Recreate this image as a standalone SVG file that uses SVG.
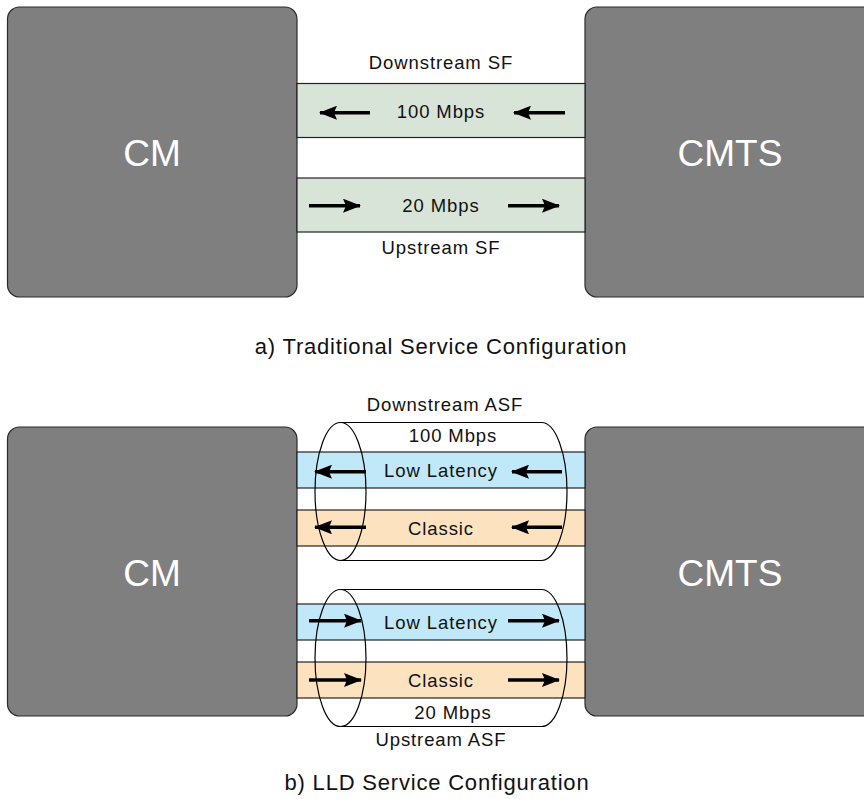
<svg xmlns="http://www.w3.org/2000/svg" width="864" height="799" viewBox="0 0 864 799">
<defs>
<style>
.box{fill:#7f7f7f;stroke:#2a2a2a;stroke-width:1.2}
.big{font-family:"Liberation Sans",Arial,sans-serif;font-size:37px;fill:#ffffff;text-anchor:middle}
.t{font-family:"Liberation Sans",Arial,sans-serif;font-size:18.5px;fill:#111;text-anchor:middle;letter-spacing:0.9px}
.cap{font-family:"Liberation Sans",Arial,sans-serif;font-size:22px;fill:#111;text-anchor:middle;letter-spacing:0.8px}
.sf{fill:#d9e4d9;stroke:#222;stroke-width:1.2}
.ll{fill:#c0e8f8;stroke:#222;stroke-width:1.2}
.cl{fill:#fde2bf;stroke:#222;stroke-width:1.2}
.arr{stroke:#000;stroke-width:3.4;fill:none;marker-end:url(#ah)}
.cyl{fill:none;stroke:#000;stroke-width:1.2}
</style>
<marker id="ah" viewBox="0 0 18 14" refX="17" refY="7" markerWidth="18" markerHeight="14" orient="auto" markerUnits="userSpaceOnUse">
<path d="M0,0 L18,7 L0,14 L3,7 Z" fill="#000"/>
</marker>
</defs>

<g id="cm-a"><rect class="box" x="7.5" y="7" width="289.5" height="290" rx="12"/><text class="big" x="152" y="166">CM</text></g>
<g id="cmts-a"><rect class="box" x="585" y="7" width="300" height="290" rx="12"/><text class="big" x="730" y="166">CMTS</text></g>

<g id="ds-sf"><rect class="sf" x="297" y="83.5" width="288" height="54"/><text class="t" x="441" y="118">100 Mbps</text><text class="t" x="441" y="69">Downstream SF</text></g>
<g id="us-sf"><rect class="sf" x="297" y="178" width="288" height="54"/><text class="t" x="441" y="212">20 Mbps</text><text class="t" x="441" y="254">Upstream SF</text></g>

<text class="cap" x="441" y="354">a) Traditional Service Configuration</text>

<g id="cm-b"><rect class="box" x="7.5" y="427" width="289.5" height="289" rx="12"/><text class="big" x="152" y="586">CM</text></g>
<g id="cmts-b"><rect class="box" x="585" y="427" width="300" height="289" rx="12"/><text class="big" x="730" y="586">CMTS</text></g>

<g id="ds-ll"><rect class="ll" x="297" y="452" width="288" height="36"/><text class="t" x="441" y="477">Low Latency</text></g>
<g id="ds-cl"><rect class="cl" x="297" y="510" width="288" height="36"/><text class="t" x="441" y="535">Classic</text></g>
<g id="us-ll"><rect class="ll" x="297" y="604" width="288" height="36"/><text class="t" x="441" y="629">Low Latency</text></g>
<g id="us-cl"><rect class="cl" x="297" y="662" width="288" height="36"/><text class="t" x="441" y="687">Classic</text></g>

<g id="ds-asf">
<path class="cyl" d="M340.5,422.5 L541.5,422.5 A25.5,69 0 0 1 541.5,560.5 L340.5,560.5"/>
<ellipse class="cyl" cx="340.5" cy="491.5" rx="25.5" ry="69"/>
<text class="t" x="445" y="411">Downstream ASF</text>
<text class="t" x="453" y="442">100 Mbps</text>
</g>
<g id="us-asf">
<path class="cyl" d="M340.5,589.5 L541.5,589.5 A25.5,68.5 0 0 1 541.5,726.5 L340.5,726.5"/>
<ellipse class="cyl" cx="340.5" cy="658" rx="25.5" ry="68.5"/>
<text class="t" x="453" y="719">20 Mbps</text>
<text class="t" x="441" y="746">Upstream ASF</text>
</g>

<text class="cap" x="437" y="790">b) LLD Service Configuration</text>

<g id="connectors">
<line class="arr" x1="370" y1="112.7" x2="320" y2="112.7"/>
<line class="arr" x1="565" y1="112.7" x2="514" y2="112.7"/>
<line class="arr" x1="309" y1="205.7" x2="360" y2="205.7"/>
<line class="arr" x1="508" y1="205.7" x2="559" y2="205.7"/>
<line class="arr" x1="366" y1="471.7" x2="315" y2="471.7"/>
<line class="arr" x1="562" y1="471.7" x2="512" y2="471.7"/>
<line class="arr" x1="366" y1="527.3" x2="315" y2="527.3"/>
<line class="arr" x1="562" y1="527.3" x2="512" y2="527.3"/>
<line class="arr" x1="309" y1="620.7" x2="361" y2="620.7"/>
<line class="arr" x1="508" y1="620.7" x2="559" y2="620.7"/>
<line class="arr" x1="309" y1="680" x2="361" y2="680"/>
<line class="arr" x1="508" y1="680" x2="559" y2="680"/>
</g>
</svg>
